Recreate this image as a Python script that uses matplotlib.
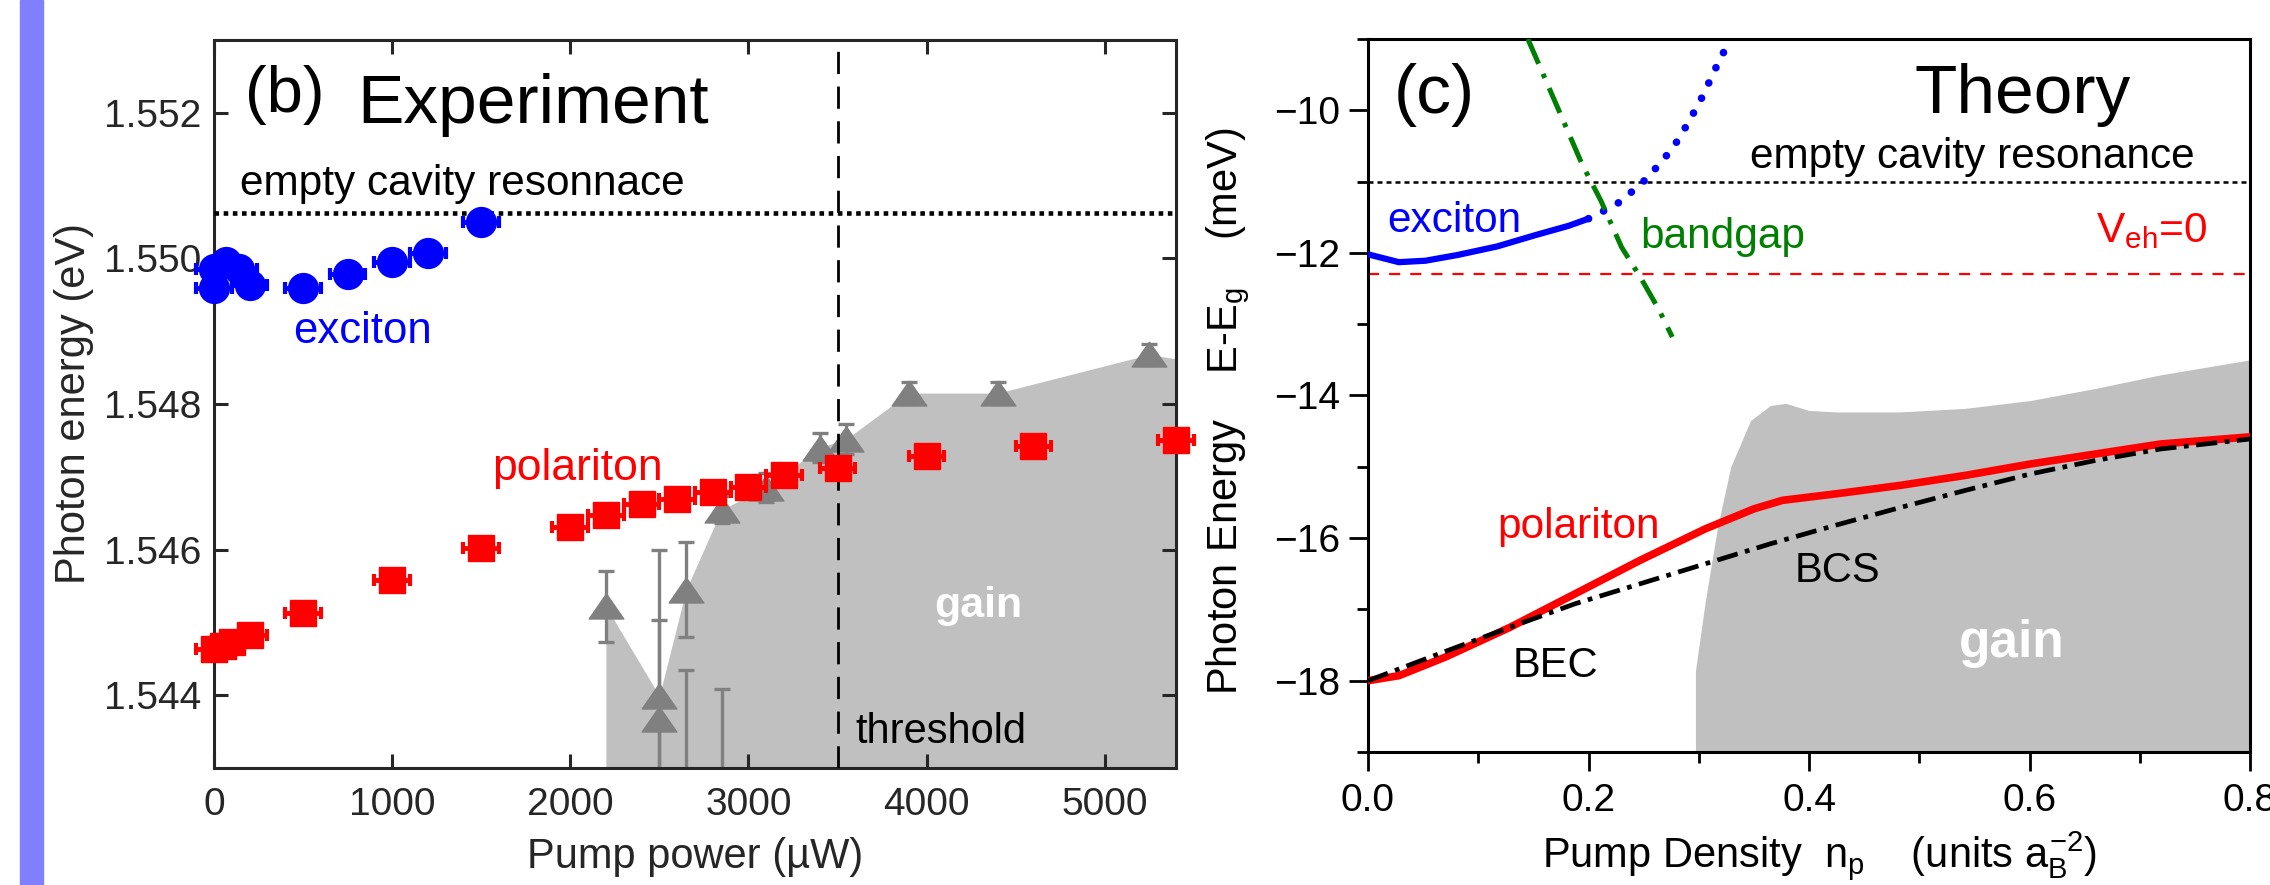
import matplotlib
matplotlib.use('Agg')
import matplotlib.pyplot as plt
from matplotlib.patches import Rectangle
from matplotlib.ticker import MultipleLocator

plt.rcParams['font.family'] = ['Liberation Sans', 'DejaVu Sans']
plt.rcParams['mathtext.fontset'] = 'custom'
plt.rcParams['mathtext.rm'] = 'Liberation Sans'
plt.rcParams['mathtext.it'] = 'Liberation Sans'
plt.rcParams['mathtext.bf'] = 'Liberation Sans:bold'

################################
####  DATA  (b) experiment
################################
exc_p = [0, 0, 70, 140, 200, 500, 750, 1000, 1200, 1500]
exc_e = [1.54959, 1.54986, 1.54995, 1.54986, 1.54963, 1.54960, 1.54978, 1.54995, 1.55007, 1.55050]

pol_p = [0, 50, 100, 200, 500, 1000, 1500, 2000, 2200, 2400, 2600, 2800, 3000, 3200, 3500, 4000, 4600, 5400]
pol_e = [1.54463, 1.54467, 1.54473, 1.54483, 1.54513, 1.54558, 1.54602, 1.54631, 1.54648, 1.54662,
         1.54669, 1.54679, 1.54686, 1.54703, 1.54712, 1.54728, 1.54742, 1.54750]

tri_p = [2200, 2500, 2500, 2650, 2650, 2850, 2850, 3100, 3400, 3550, 3900, 4400, 5250]
tri_e = [1.54522, 1.54399, 1.54367, 1.54545, 1.5425, 1.54655, 1.5427, 1.54685, 1.5474, 1.54752, 1.54815, 1.54815, 1.54868]
tri_err = [0.00049, 0.00201, 0.00136, 0.00065, 0.00184, 0.00018, 0.00139, 0.0002, 0.0002, 0.0002, 0.00015, 0.00015, 0.00015]

gain_p = [2200, 2500, 2650, 2850, 3100, 3400, 3550, 3900, 4400, 5250, 5400]
gain_e = [1.54522, 1.54399, 1.54545, 1.54655, 1.54685, 1.5474, 1.54752, 1.54815, 1.54815, 1.54868, 1.54862]

cavity_b = 1.55063
p_threshold = 3500
xlim_b = (0, 5400)
ylim_b = (1.543, 1.553)

################################
####  DATA  (c) theory
################################
exc_n = [0, 0.028, 0.052, 0.081, 0.117, 0.152, 0.182, 0.2]
exc_E = [-12.02, -12.13, -12.11, -12.03, -11.91, -11.75, -11.62, -11.52]

excd_n = [0.2, 0.214, 0.228, 0.241, 0.254, 0.265, 0.276, 0.285, 0.293, 0.300, 0.307, 0.313, 0.320, 0.327]
excd_E = [-11.52, -11.41, -11.29, -11.12, -10.94, -10.74, -10.54, -10.32, -10.10, -9.91, -9.69, -9.48, -9.27, -9.04]

bg_n = [0.145, 0.175, 0.194, 0.211, 0.230, 0.247, 0.264, 0.276]
bg_E = [-9.0, -10.07, -10.75, -11.26, -11.92, -12.34, -12.80, -13.18]

polt_n = [0, 0.028, 0.070, 0.129, 0.188, 0.247, 0.306, 0.350, 0.376, 0.424, 0.483, 0.542, 0.601, 0.660, 0.719, 0.8]
polt_E = [-18.0, -17.93, -17.67, -17.25, -16.78, -16.31, -15.87, -15.59, -15.47, -15.38, -15.26, -15.12,
          -14.96, -14.82, -14.68, -14.58]

bcs_n = [0, 0.070, 0.129, 0.188, 0.247, 0.306, 0.365, 0.424, 0.483, 0.542, 0.601, 0.660, 0.719, 0.8]
bcs_E = [-18.0, -17.59, -17.25, -16.92, -16.64, -16.36, -16.08, -15.82, -15.57, -15.33, -15.10, -14.91, -14.75, -14.61]

gain_n = [0.297, 0.306, 0.317, 0.329, 0.347, 0.365, 0.379, 0.400, 0.424, 0.483, 0.542, 0.601, 0.660, 0.719, 0.8]
gain_top = [-17.86, -16.88, -15.85, -15.0, -14.35, -14.14, -14.11, -14.21, -14.23, -14.23, -14.18, -14.07,
            -13.90, -13.71, -13.50]

cavity_c = -11.0
veh0 = -12.3
xlim_c = (0, 0.8)
ylim_c = (-19, -9)

################################
####  FIGURE
################################
fig = plt.figure(figsize=(22.7, 8.85), dpi=100)
fig.patches.append(Rectangle((20 / 2270, 0), 23 / 2270, 1, transform=fig.transFigure,
                             color='#8080ff', zorder=0))

dgray = '#262626'
tri_marker = [(0, 0.72), (-1, -0.72), (1, -0.72), (0, 0.72)]

################################
####  PANEL (b)
################################
ax1 = fig.add_axes([214 / 2270, 1 - 768 / 885, 962 / 2270, 728 / 885])
ax1.fill_between(gain_p, gain_e, ylim_b[0], color='#c0c0c0', lw=0, zorder=1)
ax1.errorbar(tri_p, tri_e, yerr=tri_err, fmt='none', ecolor='#808080', elinewidth=2.4,
             capsize=5.5, capthick=2.4, zorder=2)
ax1.plot(tri_p, tri_e, ls='none', marker=tri_marker, ms=25, color='#808080', zorder=3)
ax1.axvline(p_threshold, color='k', lw=2, ls=(0, (8, 4.5)), zorder=3)
ax1.axhline(cavity_b, color='k', lw=3.3, ls=(0, (1, 1)), zorder=3)
ax1.errorbar(pol_p, pol_e, xerr=100, yerr=0.00004, fmt='s', color='red', ms=18.5, elinewidth=3.5,
             capsize=4, capthick=3, zorder=4, clip_on=False)
ax1.errorbar(exc_p, exc_e, xerr=100, yerr=0.00004, fmt='o', color='blue', ms=21.5, elinewidth=3.5,
             capsize=4, capthick=3, zorder=5, clip_on=False)

ax1.text(174, 1.55201, '(b)', fontsize=47, va='baseline')
ax1.text(803, 1.55186, 'Experiment', fontsize=50, va='baseline')
ax1.text(146, 1.55087, 'empty cavity resonnace', fontsize=30.5, va='baseline')
ax1.text(443, 1.54884, 'exciton', fontsize=31.5, color='blue', va='baseline')
ax1.text(1560, 1.54696, 'polariton', fontsize=32, color='red', va='baseline')
ax1.text(4041, 1.54507, 'gain', fontsize=31, color='white', weight='bold', va='baseline')
ax1.text(3598, 1.54334, 'threshold', fontsize=30, va='baseline')

ax1.set_xlim(xlim_b)
ax1.set_ylim(ylim_b)
ax1.set_xticks([0, 1000, 2000, 3000, 4000, 5000])
ax1.set_yticks([1.544, 1.546, 1.548, 1.550, 1.552])
ax1.set_yticklabels(['1.544', '1.546', '1.548', '1.550', '1.552'])
ax1.tick_params(direction='in', top=True, right=True, length=10, width=2.2, colors=dgray,
                labelsize=28)
ax1.tick_params(axis='x', pad=14)
ax1.tick_params(axis='y', pad=9)
for s in ax1.spines.values():
    s.set_linewidth(2.2)
    s.set_color(dgray)
ax1.set_xlabel('Pump power (\u00b5W)', fontsize=30, color=dgray, va='center')
ax1.xaxis.set_label_coords(0.5, -0.122)
ax1.set_ylabel('Photon energy (eV)', fontsize=30, color=dgray, va='center', ha='center')
ax1.yaxis.set_label_coords(-0.1455, 0.5)

################################
####  PANEL (c)
################################
ax2 = fig.add_axes([1368 / 2270, 1 - 752 / 885, 882 / 2270, 713 / 885])
ax2.fill_between(gain_n, gain_top, ylim_c[0], color='#c0c0c0', lw=0, zorder=1)
ax2.axhline(cavity_c, color='k', lw=1.8, ls=(0, (2, 1.6)), zorder=2)
ax2.axhline(veh0, color='red', lw=1.6, ls=(0, (5, 4.5)), zorder=2)
ax2.plot(exc_n, exc_E, color='blue', lw=4.5, solid_capstyle='round', zorder=3)
ax2.plot(excd_n, excd_E, color='blue', lw=5.5, ls=(0, (0.01, 2.2)), dash_capstyle='round', zorder=3)
ax2.plot(bg_n, bg_E, color='#008000', lw=3.6, ls=(0, (5.4, 2.2, 0.9, 2.2)), zorder=3)
ax2.plot(polt_n, polt_E, color='red', lw=5.5, zorder=4)
ax2.plot(bcs_n, bcs_E, color='k', lw=3.4, ls=(0, (4.5, 1.6, 1, 1.6)), zorder=5)

ax2.text(0.0236, -10.04, '(c)', fontsize=50, va='baseline')
ax2.text(0.496, -10.04, 'Theory', fontsize=50, va='baseline')
ax2.text(0.3466, -10.81, 'empty cavity resonance', fontsize=30.5, va='baseline')
ax2.text(0.0172, -11.71, 'exciton', fontsize=30.5, color='blue', va='baseline')
ax2.text(0.2467, -11.93, 'bandgap', fontsize=30.5, color='#008000', va='baseline')
ax2.text(0.660, -11.85, r'V$_{\rm eh}$=0', fontsize=30.5, color='red', va='baseline')
ax2.text(0.117, -16.0, 'polariton', fontsize=30.5, color='red', va='baseline')
ax2.text(0.1315, -17.95, 'BEC', fontsize=30, va='baseline')
ax2.text(0.387, -16.62, 'BCS', fontsize=30, va='baseline')
ax2.text(0.536, -17.67, 'gain', fontsize=37, color='white', weight='bold', va='baseline')

ax2.set_xlim(xlim_c)
ax2.set_ylim(ylim_c)
ax2.set_xticks([0.0, 0.2, 0.4, 0.6, 0.8])
ax2.set_xticklabels(['0.0', '0.2', '0.4', '0.6', '0.8'])
ax2.set_yticks([-18, -16, -14, -12, -10])
ax2.xaxis.set_minor_locator(MultipleLocator(0.1))
ax2.yaxis.set_minor_locator(MultipleLocator(1))
ax2.tick_params(which='major', direction='out', length=14, width=2, labelsize=28, colors='k')
ax2.tick_params(which='minor', direction='out', length=8, width=2)
ax2.tick_params(axis='x', pad=8)
ax2.tick_params(axis='y', pad=6)
for s in ax2.spines.values():
    s.set_linewidth(2.2)
ax2.set_xlabel(r'Pump Density  $n_{\rm p}$    (units $a_{\rm B}^{-2}$)', fontsize=30, va='center')
ax2.xaxis.set_label_coords(0.512, -0.1445)
ax2.set_ylabel(r'Photon Energy    E-E$_{\rm g}$    (meV)', fontsize=30, va='center', ha='center')
ax2.yaxis.set_label_coords(-0.1587, 0.478)

fig.savefig('out.png', dpi=100)
